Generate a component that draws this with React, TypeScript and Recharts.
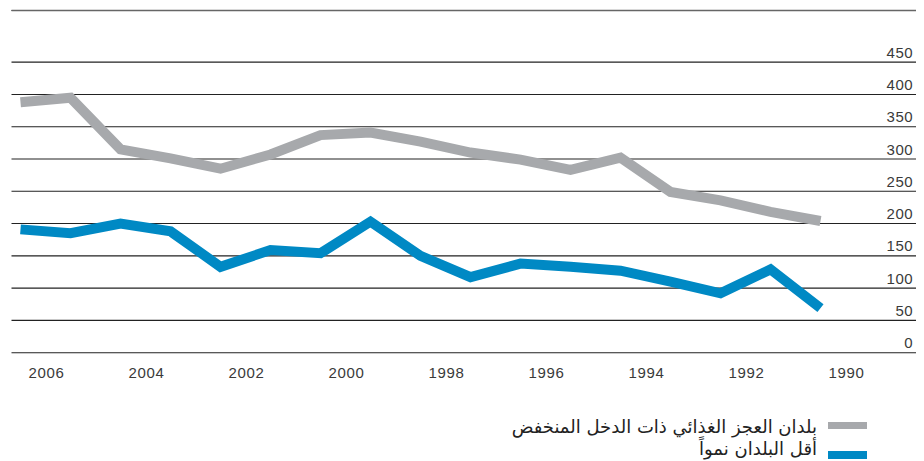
import { LineChart, Line, XAxis, YAxis, CartesianGrid, ReferenceLine } from 'recharts';

const years = [2006, 2005, 2004, 2003, 2002, 2001, 2000, 1999, 1998, 1997, 1996, 1995, 1994, 1993, 1992, 1991, 1990];
const lowIncomeFoodDeficit = [388, 395, 315, 301, 285, 307, 337, 341, 327, 310, 299, 283, 302, 249, 236, 218, 204];
const leastDeveloped = [191, 185, 200, 188, 133, 159, 154, 203, 150, 117, 138, 133, 127, 110, 92, 129, 69];
const yearTicks = [2006, 2004, 2002, 2000, 1998, 1996, 1994, 1992, 1990];
const valueTicks = [0, 50, 100, 150, 200, 250, 300, 350, 400, 450];

const series = [
  { key: 'lifdc', name: 'بلدان العجز الغذائي ذات الدخل المنخفض', color: '#A7A9AC' },
  { key: 'ldc', name: 'أقل البلدان نمواً', color: '#0089C4' },
];

const data = years.map((year, i) => ({
  year,
  lifdc: lowIncomeFoodDeficit[i],
  ldc: leastDeveloped[i],
}));

const W = 916;
const H = 452;
const margin = { top: 2.5, right: 6, left: 3.5, bottom: 77.3 };
const plotBottom = H - margin.bottom - 30;
const font = '"Liberation Sans", Arial, sans-serif';

const YearTick = (props: any) => (
  <text
    x={props.x + 26}
    y={plotBottom + 20}
    textAnchor="middle"
    dominantBaseline="central"
    fontFamily={font}
    fontSize={15}
    letterSpacing={0.6}
    fill="#3a3a3a"
  >
    {props.payload.value}
  </text>
);

const ValueTick = (props: any) => (
  <text
    x={W - margin.right - 4.7}
    y={props.y - 10}
    textAnchor="end"
    dominantBaseline="central"
    fontFamily={font}
    fontSize={15}
    letterSpacing={0.6}
    fill="#3a3a3a"
  >
    {props.payload.value}
  </text>
);

export default function App() {
  return (
    <div style={{ position: 'relative', width: W, height: H }}>
      <LineChart width={W} height={H} data={data} margin={margin}>
        <CartesianGrid vertical={false} stroke="#222" strokeWidth={1.1} />
        <ReferenceLine y={530} stroke="#666" strokeWidth={1.6} />
        <XAxis
          dataKey="year"
          type="number"
          domain={[1988.05, 2006.18]}
          reversed
          ticks={yearTicks}
          axisLine={false}
          tickLine={false}
          height={30}
          tick={<YearTick />}
          interval={0}
        />
        <YAxis
          orientation="right"
          mirror
          domain={[0, 530]}
          ticks={valueTicks}
          width={60}
          axisLine={false}
          tickLine={false}
          tick={<ValueTick />}
          interval={0}
        />
        {series.map((s) => (
          <Line
            key={s.key}
            dataKey={s.key}
            name={s.name}
            type="linear"
            stroke={s.color}
            strokeWidth={10}
            strokeLinejoin="miter"
            strokeLinecap="butt"
            dot={false}
            activeDot={false}
            isAnimationActive={false}
          />
        ))}
      </LineChart>
      {series.map((s, i) => (
        <div key={s.key}>
          <div
            style={{
              position: 'absolute',
              left: 820,
              top: i === 0 ? 413.7 : 443,
              width: 39,
              height: 7.5,
              background: s.color,
            }}
          />
          <div
            dir="rtl"
            style={{
              position: 'absolute',
              right: W - 809,
              top: i === 0 ? 409 : 431,
              fontFamily: '"DejaVu Sans", sans-serif',
              fontSize: 18,
              lineHeight: '20px',
              color: '#222',
              whiteSpace: 'nowrap',
            }}
          >
            {s.name}
          </div>
        </div>
      ))}
    </div>
  );
}
